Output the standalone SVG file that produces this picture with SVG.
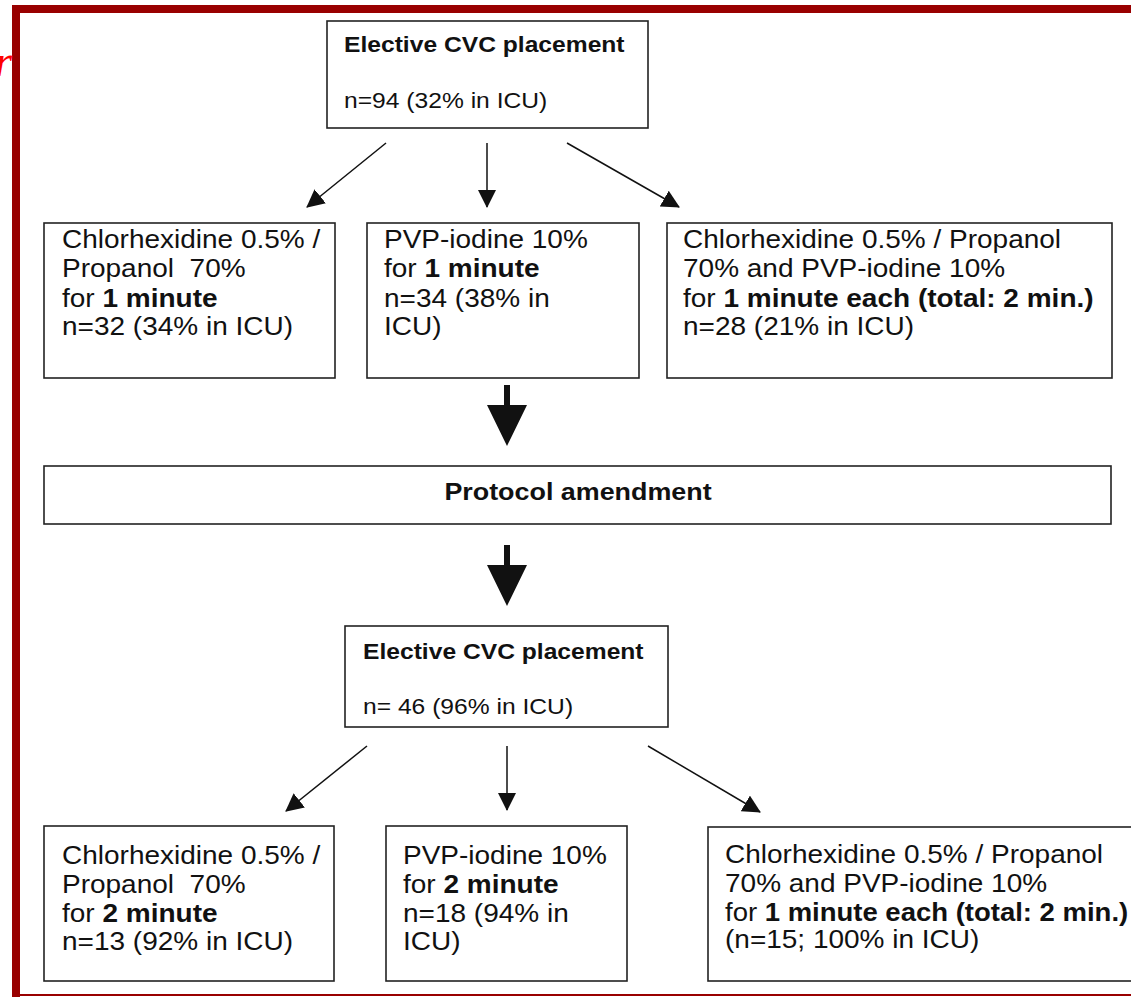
<svg xmlns="http://www.w3.org/2000/svg" width="1131" height="997" viewBox="0 0 1131 997">
<style>
.box{fill:#fff;stroke:#222;stroke-width:1.6}
.t{font-family:"Liberation Sans",Arial,sans-serif;font-size:25px;fill:#111;white-space:pre}
.s{font-size:22px}
.b{font-weight:bold}
.h{font-family:"Liberation Sans",Arial,sans-serif;font-size:22px;font-weight:bold;fill:#111}
.ln{stroke:#111;stroke-width:1.5;fill:none;marker-end:url(#arr)}
</style>
<defs>
<marker id="arr" markerUnits="userSpaceOnUse" markerWidth="18" markerHeight="18" viewBox="0 0 18 18" refX="17" refY="9" orient="auto">
<path d="M0,0 L18,9 L0,18 z" fill="#111"/>
</marker>
</defs>
<rect width="1131" height="997" fill="#fff"/>
<g id="frame">
<rect x="12" y="5" width="1125" height="8" fill="#990000"/>
<rect x="12" y="5" width="8" height="992" fill="#990000"/>
<rect x="12" y="994" width="1125" height="2" fill="#990000"/>
<text x="-5" y="76" font-family="Liberation Serif,serif" font-style="italic" font-size="44" fill="#ff0000">r</text>
</g>
<g id="n_top">
<rect class="box" x="327" y="21" width="321" height="107"/>
<text class="h" transform="translate(344,52) scale(1.12,1)">Elective CVC placement</text>
<text class="t s" transform="translate(344,108) scale(1.12,1)">n=94 (32% in ICU)</text>
</g>
<g id="n_a1">
<rect class="box" x="44" y="223" width="291" height="155"/>
<text class="t" transform="translate(62,248) scale(1.12,1)">Chlorhexidine 0.5% /</text>
<text class="t" transform="translate(62,277) scale(1.12,1)" xml:space="preserve">Propanol  70%</text>
<text class="t" transform="translate(62,307) scale(1.12,1)">for <tspan class="b">1 minute</tspan></text>
<text class="t" transform="translate(62,335) scale(1.12,1)">n=32 (34% in ICU)</text>
</g>
<g id="n_b1">
<rect class="box" x="367" y="223" width="272" height="155"/>
<text class="t" transform="translate(384,248) scale(1.12,1)">PVP-iodine 10%</text>
<text class="t" transform="translate(384,277) scale(1.12,1)">for <tspan class="b">1 minute</tspan></text>
<text class="t" transform="translate(384,307) scale(1.12,1)">n=34 (38% in</text>
<text class="t" transform="translate(384,335) scale(1.12,1)">ICU)</text>
</g>
<g id="n_c1">
<rect class="box" x="667" y="223" width="445" height="155"/>
<text class="t" transform="translate(683,248) scale(1.12,1)">Chlorhexidine 0.5% / Propanol</text>
<text class="t" transform="translate(683,277) scale(1.12,1)">70% and PVP-iodine 10%</text>
<text class="t" transform="translate(683,307) scale(1.12,1)">for <tspan class="b">1 minute each (total: 2 min.)</tspan></text>
<text class="t" transform="translate(683,335) scale(1.12,1)">n=28 (21% in ICU)</text>
</g>
<g id="n_protocol">
<rect class="box" x="44" y="466" width="1067" height="58"/>
<text class="h" transform="translate(578,500) scale(1.12,1)" text-anchor="middle" style="font-size:24px">Protocol amendment</text>
</g>
<g id="n_mid">
<rect class="box" x="345" y="626" width="323" height="101"/>
<text class="h" transform="translate(363,659) scale(1.12,1)">Elective CVC placement</text>
<text class="t s" transform="translate(363,714) scale(1.12,1)">n= 46 (96% in ICU)</text>
</g>
<g id="n_a2">
<rect class="box" x="44" y="826" width="290" height="155"/>
<text class="t" transform="translate(62,864) scale(1.12,1)">Chlorhexidine 0.5% /</text>
<text class="t" transform="translate(62,893) scale(1.12,1)" xml:space="preserve">Propanol  70%</text>
<text class="t" transform="translate(62,922) scale(1.12,1)">for <tspan class="b">2 minute</tspan></text>
<text class="t" transform="translate(62,950) scale(1.12,1)">n=13 (92% in ICU)</text>
</g>
<g id="n_b2">
<rect class="box" x="386" y="826" width="241" height="155"/>
<text class="t" transform="translate(403,864) scale(1.12,1)">PVP-iodine 10%</text>
<text class="t" transform="translate(403,893) scale(1.12,1)">for <tspan class="b">2 minute</tspan></text>
<text class="t" transform="translate(403,922) scale(1.12,1)">n=18 (94% in</text>
<text class="t" transform="translate(403,950) scale(1.12,1)">ICU)</text>
</g>
<g id="n_c2">
<rect class="box" x="708" y="827" width="440" height="154"/>
<text class="t" transform="translate(725,863) scale(1.12,1)">Chlorhexidine 0.5% / Propanol</text>
<text class="t" transform="translate(725,892) scale(1.12,1)">70% and PVP-iodine 10%</text>
<text class="t" transform="translate(725,921) scale(1.1,1)">for <tspan class="b">1 minute each (total: 2 min.)</tspan></text>
<text class="t" transform="translate(725,948) scale(1.12,1)">(n=15; 100% in ICU)</text>
</g>
<g id="connectors">
<line class="ln" x1="386" y1="143" x2="307" y2="207"/>
<line class="ln" x1="487" y1="143" x2="487" y2="207"/>
<line class="ln" x1="567" y1="143" x2="679" y2="207"/>
<polygon points="504,385 510,385 510,405 527,405 507,446 487,405 504,405" fill="#111"/>
<polygon points="504,545 510,545 510,565 527,565 507,606 487,565 504,565" fill="#111"/>
<line class="ln" x1="367" y1="746" x2="286" y2="811"/>
<line class="ln" x1="507" y1="746" x2="507" y2="810"/>
<line class="ln" x1="648" y1="746" x2="760" y2="812"/>
</g>
</svg>
